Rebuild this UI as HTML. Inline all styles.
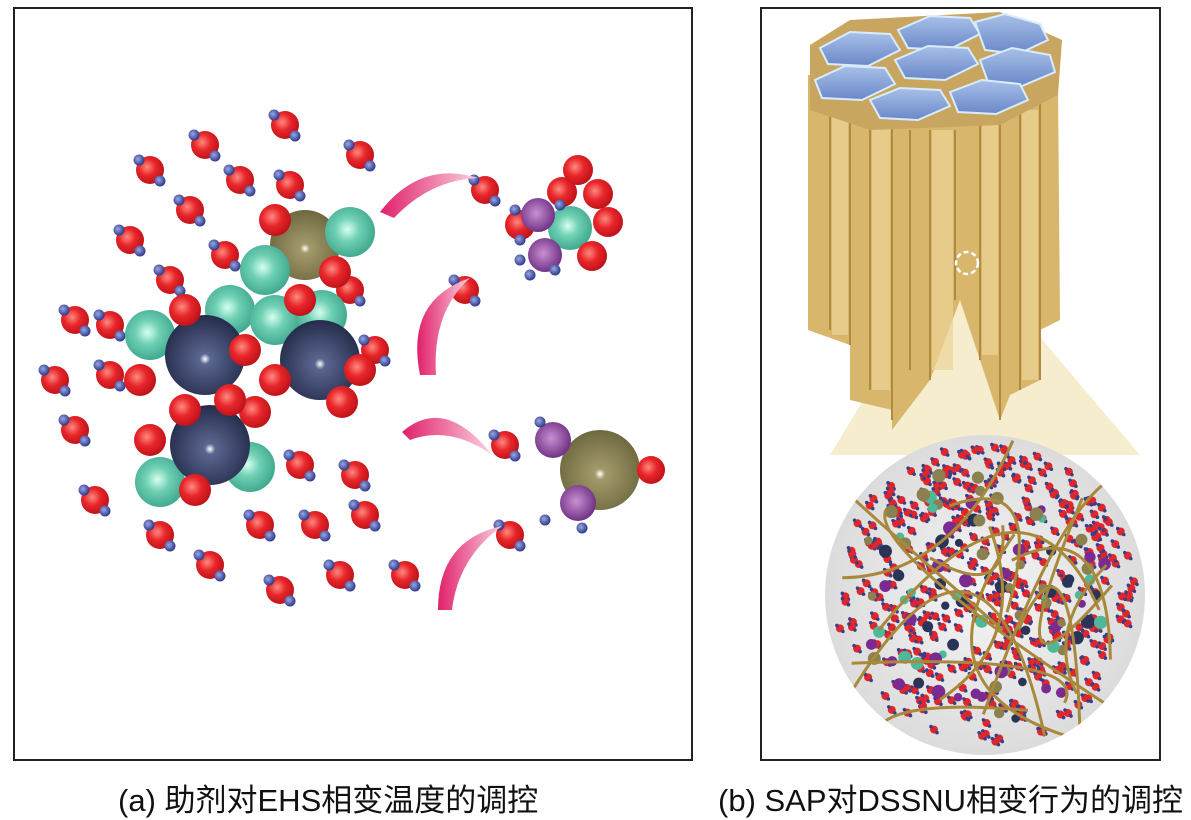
<!DOCTYPE html>
<html><head><meta charset="utf-8"><style>
html,body{margin:0;padding:0;background:#fff;width:1191px;height:813px;overflow:hidden}
.cap{position:absolute;font-family:"Liberation Sans","Noto Sans CJK SC",sans-serif;font-size:31px;color:#111;top:775px;white-space:nowrap}
</style></head><body>
<svg id="s" width="1191" height="813" style="position:absolute;left:0;top:0" xmlns="http://www.w3.org/2000/svg">
<defs>
<radialGradient id="rd" cx="0.4" cy="0.4" r="0.6"><stop offset="0" stop-color="#ff8a80"/><stop offset="0.5" stop-color="#e8262a"/><stop offset="1" stop-color="#c0141a"/></radialGradient>
<radialGradient id="bl" cx="0.4" cy="0.4" r="0.6"><stop offset="0" stop-color="#9aa6e0"/><stop offset="1" stop-color="#2e3a8c"/></radialGradient>
<radialGradient id="nv" cx="0.5" cy="0.55" r="0.55"><stop offset="0" stop-color="#fff"/><stop offset="0.12" stop-color="#5a6690"/><stop offset="1" stop-color="#252c4a"/></radialGradient>
<radialGradient id="tl" cx="0.45" cy="0.45" r="0.6"><stop offset="0" stop-color="#d8fff0"/><stop offset="0.4" stop-color="#6fd0b4"/><stop offset="1" stop-color="#3aa48a"/></radialGradient>
<radialGradient id="ol" cx="0.5" cy="0.55" r="0.55"><stop offset="0" stop-color="#fff"/><stop offset="0.12" stop-color="#a39a6a"/><stop offset="1" stop-color="#6e6840"/></radialGradient>
<radialGradient id="pp" cx="0.45" cy="0.45" r="0.6"><stop offset="0" stop-color="#c890d0"/><stop offset="1" stop-color="#6a2a80"/></radialGradient>
<radialGradient id="cg" cx="0.5" cy="0.5" r="0.5"><stop offset="0" stop-color="#f4f4f4"/><stop offset="1" stop-color="#dcdcdc"/></radialGradient>
<linearGradient id="pk" x1="0" y1="0" x2="1" y2="0"><stop offset="0" stop-color="#e0206a"/><stop offset="1" stop-color="#fbd0e0"/></linearGradient>
<linearGradient id="hx" x1="0" y1="0" x2="0" y2="1"><stop offset="0" stop-color="#a8c0e8"/><stop offset="1" stop-color="#6a88c8"/></linearGradient>
<symbol id="w" overflow="visible"><circle cx="0" cy="0" r="14" fill="url(#rd)"/><circle cx="-11" cy="-10" r="5.5" fill="url(#bl)"/><circle cx="10" cy="11" r="5.5" fill="url(#bl)"/></symbol>
<symbol id="ws" overflow="visible"><circle cx="0" cy="0" r="4" fill="#e0262a"/><circle cx="-3" cy="-3" r="1.8" fill="#34408c"/><circle cx="3" cy="3" r="1.8" fill="#34408c"/></symbol>
<clipPath id="cc"><circle cx="985" cy="595" r="160"/></clipPath>
</defs>
<rect x="14" y="8" width="678" height="752" fill="#fff" stroke="#222" stroke-width="2"/>
<rect x="761" y="8" width="399" height="752" fill="#fff" stroke="#222" stroke-width="2"/>
<g id="L"></g>
<path d="M380,212 Q420,160 478,178 Q430,180 394,218 Z" fill="url(#pk)"/>
<path d="M420,375 Q405,300 470,278 Q432,312 436,375 Z" fill="url(#pk)"/>
<path d="M402,432 Q445,395 492,455 Q450,425 410,440 Z" fill="url(#pk)"/>
<path d="M438,610 Q438,540 502,526 Q458,558 452,610 Z" fill="url(#pk)"/>
<path d="M930,290 L1000,290 L1140,455 L830,455 Z" fill="#f3e8c0" opacity="0.8"/>
<circle cx="985" cy="595" r="160" fill="url(#cg)"/>
<g clip-path="url(#cc)" id="C"></g>
<path d="M808,75 L808,330 L850,345 L850,400 L892,410 L892,430 L930,380 L960,300 L1000,420 L1010,395 L1040,380 L1040,330 L1060,320 L1058,85 Z" fill="#d8b66c"/>
<g stroke="#b08a40" stroke-width="2" fill="none">
<path d="M830,100 L830,330 M850,110 L850,345 M870,110 L870,390 M892,115 L892,420 M910,130 L910,370 M930,130 L930,380 M955,130 L955,300 M980,120 L980,360 M1000,125 L1000,420 M1020,110 L1020,390 M1040,100 L1040,380"/>
</g>
<g fill="#ecd498" opacity="0.7"><rect x="832" y="105" width="16" height="230"/><rect x="872" y="110" width="18" height="280"/><rect x="932" y="130" width="21" height="240"/><rect x="982" y="125" width="16" height="230"/><rect x="1022" y="110" width="16" height="270"/></g>
<path d="M810,45 L850,20 L1000,12 L1062,40 L1058,95 L1000,125 L870,130 L810,110 Z" fill="#c9a660"/>
<g fill="url(#hx)" stroke="#d8ecff" stroke-width="2">
<path d="M820,48 L850,32 L890,34 L900,50 L868,66 L828,64 Z"/>
<path d="M898,30 L930,16 L970,18 L980,34 L948,50 L908,48 Z"/>
<path d="M975,22 L1005,14 L1040,24 L1048,40 L1018,54 L985,50 Z"/>
<path d="M815,80 L845,66 L885,68 L895,84 L862,100 L822,98 Z"/>
<path d="M895,60 L928,46 L968,48 L978,64 L945,80 L905,78 Z"/>
<path d="M980,60 L1012,48 L1050,55 L1055,72 L1022,86 L988,82 Z"/>
<path d="M870,100 L900,88 L940,90 L950,106 L918,120 L880,118 Z"/>
<path d="M950,92 L982,80 L1020,84 L1028,100 L996,114 L958,112 Z"/>
</g>
<circle cx="967" cy="263" r="11" fill="none" stroke="#fff" stroke-width="2.5" stroke-dasharray="5,3"/>
</svg>
<div class="cap" style="left:118px">(a) 助剂对EHS相变温度的调控</div>
<div class="cap" style="left:718px">(b) SAP对DSSNU相变行为的调控</div>
<script>
var NS="http://www.w3.org/2000/svg",L=document.getElementById("L"),C=document.getElementById("C");
function el(p,t,a){var e=document.createElementNS(NS,t);for(var k in a)e.setAttribute(k,a[k]);p.appendChild(e);return e;}
function c(p,x,y,r,f){el(p,"circle",{cx:x,cy:y,r:r,fill:f});}
function w(p,x,y,id){var u=el(p,"use",{x:x,y:y});u.setAttributeNS("http://www.w3.org/1999/xlink","href","#"+(id||"w"));u.setAttribute("href","#"+(id||"w"));}
var W=[[205,145],[285,125],[150,170],[360,155],[240,180],[190,210],[290,185],[130,240],[225,255],[170,280],[350,290],[75,320],[110,325],[375,350],[55,380],[110,375],[75,430],[95,500],[160,535],[210,565],[260,525],[300,465],[355,475],[365,515],[315,525],[280,590],[340,575],[405,575],[485,190],[465,290],[505,445],[510,535]];
W.forEach(function(p){w(L,p[0],p[1]);});
c(L,305,245,35,"url(#ol)");
[[150,335],[230,310],[275,320],[322,315],[350,232],[265,270],[160,482],[250,467]].forEach(function(p){c(L,p[0],p[1],25,"url(#tl)");});
[[205,355],[320,360],[210,445]].forEach(function(p){c(L,p[0],p[1],40,"url(#nv)");});
[[275,220],[335,272],[185,310],[245,350],[185,410],[275,380],[342,402],[150,440],[195,490],[300,300],[255,412],[140,380],[230,400],[360,370]].forEach(function(p){c(L,p[0],p[1],16,"url(#rd)");});
c(L,570,228,22,"url(#tl)");
[[562,192],[598,194],[608,222],[592,256],[520,225],[578,170]].forEach(function(p){c(L,p[0],p[1],15,"url(#rd)");});
c(L,538,215,17,"url(#pp)");c(L,545,255,17,"url(#pp)");
[[515,210],[520,240],[530,275],[555,270],[520,260],[560,205]].forEach(function(p){c(L,p[0],p[1],5.5,"url(#bl)");});
c(L,600,470,40,"url(#ol)");c(L,553,440,18,"url(#pp)");c(L,578,503,18,"url(#pp)");c(L,651,470,14,"url(#rd)");
[[540,422],[545,520],[582,528]].forEach(function(p){c(L,p[0],p[1],5.5,"url(#bl)");});
var s=7;function R(){s=(s*16807)%2147483647;return s/2147483647;}
for(var i=0;i<420;i++){var a=R()*6.283,r=Math.sqrt(R())*150;w(C,985+r*Math.cos(a),595+r*Math.sin(a),"ws");}
var cols=["#2a3458","#4fb898","#7a2a90","#8a8050"];
for(var i=0;i<90;i++){var a=R()*6.283,r=Math.sqrt(R())*130;c(C,985+r*Math.cos(a),595+r*Math.sin(a),4+R()*3,cols[Math.floor(R()*4)]);}
for(var i=0;i<16;i++){var x1=830+R()*310,y1=440+R()*320,x2=830+R()*310,y2=440+R()*320,cx=830+R()*310,cy=440+R()*320;el(C,"path",{d:"M"+x1+","+y1+" Q"+cx+","+cy+" "+x2+","+y2,fill:"none",stroke:"#a8883a","stroke-width":3});}
</script>
</body></html>
